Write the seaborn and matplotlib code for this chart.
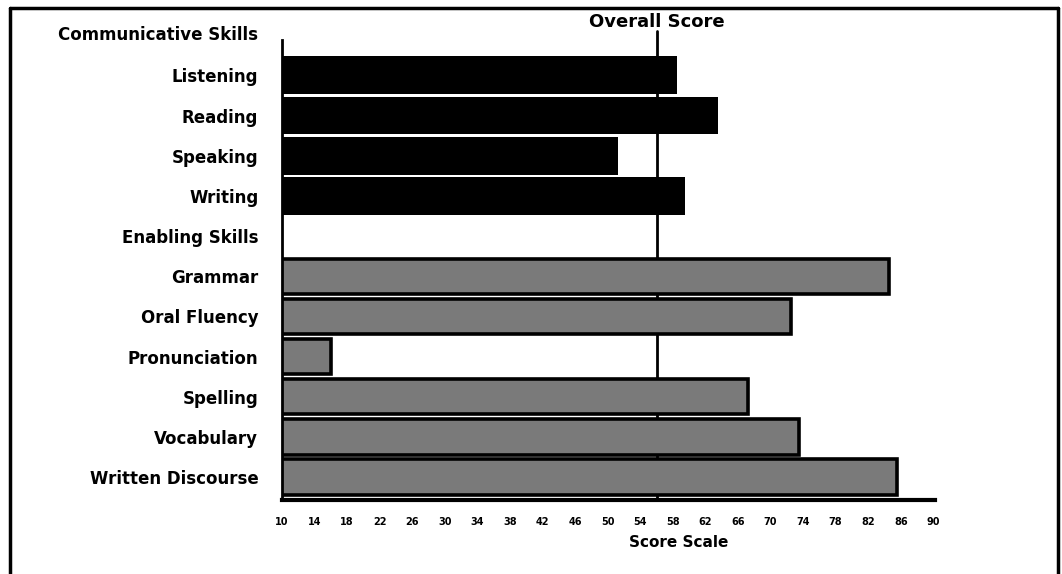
import matplotlib
matplotlib.use("Agg")
import matplotlib.pyplot as plt
import seaborn as sns
import pandas as pd
from matplotlib.lines import Line2D

sns.set_theme(style="white")
plt.rcParams['font.family'] = ['DejaVu Sans']
plt.rcParams['text.color'] = 'black'
plt.rcParams['xtick.color'] = 'black'
plt.rcParams['ytick.color'] = 'black'
plt.rcParams['axes.labelcolor'] = 'black'

# ---- data ----
headers = ["Communicative Skills", "Enabling Skills"]
communicative = ["Listening", "Reading", "Speaking", "Writing"]
communicative_scores = [58.5, 63.5, 51.3, 59.5]
enabling = ["Grammar", "Oral Fluency", "Pronunciation", "Spelling", "Vocabulary", "Written Discourse"]
enabling_scores = [84.5, 72.5, 16, 67.2, 73.5, 85.5]
overall_score = 56
x_ticks = list(range(10, 91, 4))

order = [headers[0]] + communicative + [headers[1]] + enabling
df = pd.DataFrame({
    "skill": communicative + enabling,
    "score": communicative_scores + enabling_scores,
    "group": ["Communicative"] * len(communicative) + ["Enabling"] * len(enabling),
})

fig = plt.figure(figsize=(10.62, 5.74), dpi=100)
ax = fig.add_axes([0.2655, 0.1289, 0.6149, 0.8014])

ax.axvline(overall_score, color="black", lw=2, zorder=1, ymax=1.02, clip_on=False)

sns.barplot(data=df[df.group == "Communicative"], x="score", y="skill", order=order,
            color="#000000", width=0.94, orient="h", ax=ax,
            edgecolor="black", linewidth=0, zorder=2)
sns.barplot(data=df[df.group == "Enabling"], x="score", y="skill", order=order,
            color="#7a7a7a", width=0.88, orient="h", ax=ax,
            edgecolor="black", linewidth=2.6, zorder=2)

ax.set_xlim(10, 90.2)
ax.set_ylim(11.57, 0.12)

# spines
for s in ["top", "right"]:
    ax.spines[s].set_visible(False)
ax.spines["left"].set_linewidth(2)
ax.spines["bottom"].set_linewidth(3)
ax.spines["left"].set_color("black")
ax.spines["bottom"].set_color("black")

# x ticks
ax.set_xticks(x_ticks)
ax.set_xticklabels([str(t) for t in x_ticks], fontsize=7, fontweight="bold")
ax.tick_params(axis="x", direction="out", length=4, width=2, color="black", pad=8)
ax.set_xlabel("Score Scale", fontsize=11, fontweight="bold")
ax.xaxis.set_label_coords(0.608, -0.075)

# y labels
ax.set_ylabel("")
yt = [order.index(s) for s in communicative + [headers[1]] + enabling]
ax.set_yticks(yt)
ax.set_yticklabels([order[i] for i in yt], fontsize=12, fontweight="bold")
ax.tick_params(axis="y", length=0, pad=17)
ax.text(-0.0368, order.index(headers[0]), headers[0],
        transform=ax.get_yaxis_transform(), ha="right", va="center",
        fontsize=12, fontweight="bold", clip_on=False)

ax.text(overall_score, -0.32, "Overall Score", ha="center", va="center",
        fontsize=13, fontweight="bold", clip_on=False)

# outer frame (left, top, right)
fig.add_artist(Line2D([10/1062, 10/1062], [0, 1 - 8/574], transform=fig.transFigure, color="black", lw=2.5))
fig.add_artist(Line2D([10/1062, 1058/1062], [1 - 8/574, 1 - 8/574], transform=fig.transFigure, color="black", lw=2.5))
fig.add_artist(Line2D([1058/1062, 1058/1062], [0, 1 - 8/574], transform=fig.transFigure, color="black", lw=2.5))

fig.savefig("out.png", dpi=100)
